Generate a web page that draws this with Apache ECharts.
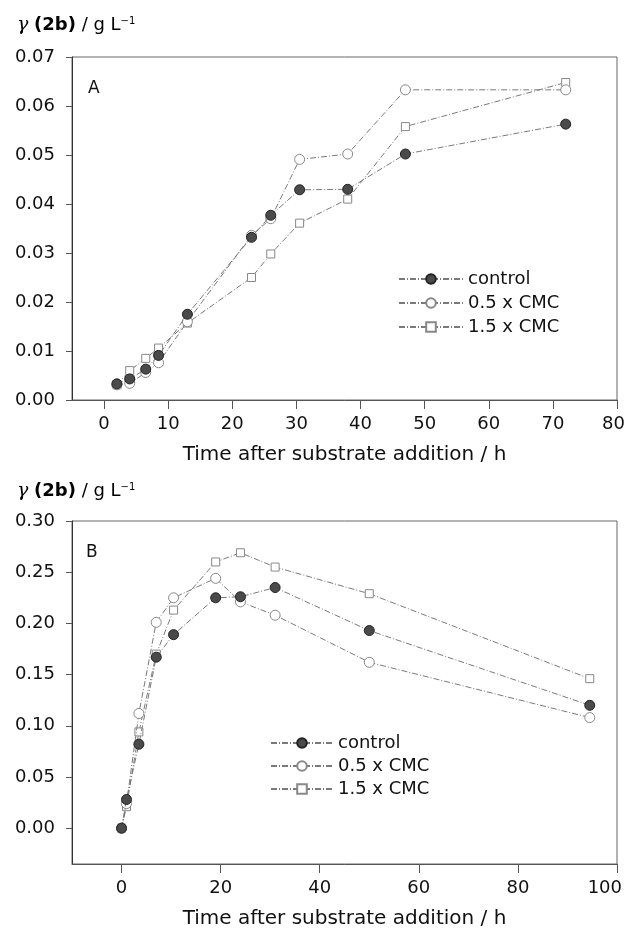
<!DOCTYPE html>
<html><head><meta charset="utf-8">
<script src="https://cdn.jsdelivr.net/npm/echarts@6/dist/echarts.min.js"></script>
<style>html,body{margin:0;padding:0;background:#fff}#c{width:627px;height:932px}</style>
</head><body><div id="c"></div>
<script>
var seriesNames = ['control', '0.5 x CMC', '1.5 x CMC'];
var timeA = [2, 4, 6.5, 8.5, 13, 23, 26, 30.5, 38, 47, 72];
var controlA = [0.0033, 0.0043, 0.0063, 0.0091, 0.0175, 0.0332, 0.0377, 0.0429, 0.0430, 0.0502, 0.0563];
var cmc05A = [0.0031, 0.0034, 0.0056, 0.0076, 0.0160, 0.0336, 0.0370, 0.0491, 0.0502, 0.0633, 0.0633];
var cmc15A = [0.0031, 0.0060, 0.0085, 0.0106, 0.0157, 0.0250, 0.0298, 0.0361, 0.0410, 0.0558, 0.0648];
var timeB = [0, 1, 3.5, 7, 10.5, 19, 24, 31, 50, 94.5];
var controlB = [0.000, 0.028, 0.082, 0.167, 0.189, 0.225, 0.226, 0.235, 0.193, 0.120];
var cmc05B = [0.000, 0.024, 0.112, 0.201, 0.225, 0.244, 0.221, 0.208, 0.162, 0.108];
var cmc15B = [0.000, 0.021, 0.094, 0.170, 0.213, 0.260, 0.269, 0.255, 0.229, 0.146];
var xTicksA = [0, 10, 20, 30, 40, 50, 60, 70, 80];
var yTicksA = [0, 0.01, 0.02, 0.03, 0.04, 0.05, 0.06, 0.07];
var xTicksB = [0, 20, 40, 60, 80, 100];
var yTicksB = [0, 0.05, 0.10, 0.15, 0.20, 0.25, 0.30];

function pairs(xs, ys) { return xs.map(function (x, i) { return [x, ys[i]]; }); }

var FONT = 'DejaVu Sans';
var lineStyle = { color: '#7a7a7a', width: 1, type: [6, 2, 1, 2] };
var symStyles = [
  { symbol: 'circle', symbolSize: 10, itemStyle: { color: '#4a4a4a', borderColor: '#222', borderWidth: 1 } },
  { symbol: 'circle', symbolSize: 10, itemStyle: { color: '#fff', borderColor: '#888', borderWidth: 1 } },
  { symbol: 'rect', symbolSize: 8, itemStyle: { color: '#fff', borderColor: '#888', borderWidth: 1 } }
];

function mkSeries(name, idx, data, axisIdx, z) {
  var s = symStyles[idx];
  return {
    type: 'line', name: name, xAxisIndex: axisIdx, yAxisIndex: axisIdx,
    data: data, symbol: s.symbol, symbolSize: s.symbolSize, itemStyle: s.itemStyle,
    lineStyle: lineStyle, z: z, animation: false, showAllSymbol: true
  };
}

function xAxis(gi, min, max, ticks, name, shift) {
  return {
    type: 'value', gridIndex: gi, min: min, max: max,
    name: name, nameLocation: 'middle', nameGap: 45,
    nameTextStyle: { fontFamily: FONT, fontSize: 20, color: '#111' },
    axisLine: { show: true, onZero: false, lineStyle: { color: '#555', width: 1 } },
    axisTick: { show: true, length: 9, customValues: ticks, lineStyle: { color: '#555' } },
    axisLabel: { customValues: ticks, margin: 15, fontFamily: FONT, fontSize: 18, color: '#111',
      alignMaxLabel: 'right',
      formatter: function (v) { return v === max ? '{r|' + v + '}' : String(v); },
      rich: { r: { fontFamily: FONT, fontSize: 18, color: '#111', padding: [0, -shift, 0, 0] } } },
    splitLine: { show: false }
  };
}
function yAxis(gi, min, max, ticks) {
  return {
    type: 'value', gridIndex: gi, min: min, max: max,
    axisLine: { show: true, onZero: false, lineStyle: { color: '#333', width: 1 } },
    axisTick: { show: true, length: 6, customValues: ticks, lineStyle: { color: '#555' } },
    axisLabel: { customValues: ticks, margin: 17, fontFamily: FONT, fontSize: 18, color: '#111',
      formatter: function (v) { return v.toFixed(2); } },
    splitLine: { show: false }
  };
}

var titleRich = {
  g: { fontFamily: 'DejaVu Serif', fontStyle: 'italic', fontSize: 19, color: '#111' },
  b: { fontFamily: FONT, fontWeight: 'bold', fontSize: 18, color: '#111' },
  t: { fontFamily: FONT, fontSize: 18, color: '#111' },
  s: { fontFamily: FONT, fontSize: 10, color: '#111', verticalAlign: 'top', padding: [0, 0, 9, 0] }
};
var titleText = '{g|γ}{t| }{b|(2b)}{t| / g L}{s|−1}';

var chart = echarts.init(document.getElementById('c'), null, { renderer: 'canvas' });
chart.setOption({
  backgroundColor: '#fff',
  animation: false,
  grid: [
    { left: 72, right: 10, top: 57, height: 343, show: true, borderColor: '#666', borderWidth: 1,
      outerBoundsMode: 'none', containLabel: false },
    { left: 72, right: 10, top: 521, height: 343, show: true, borderColor: '#666', borderWidth: 1,
      outerBoundsMode: 'none', containLabel: false }
  ],
  xAxis: [
    xAxis(0, -5, 80, xTicksA, 'Time after substrate addition / h', 8),
    xAxis(1, -10, 100, xTicksB, 'Time after substrate addition / h', 5)
  ],
  yAxis: [
    yAxis(0, 0, 0.07, yTicksA),
    yAxis(1, -0.035, 0.30, yTicksB)
  ],
  legend: [
    { data: seriesNames, orient: 'vertical', left: 398, top: 270, itemWidth: 64, itemHeight: 12,
      itemGap: 6, padding: 0, textStyle: { fontFamily: FONT, fontSize: 18, color: '#111' } },
    { data: seriesNames, orient: 'vertical', left: 270, top: 734, itemWidth: 62, itemHeight: 12,
      itemGap: 5, padding: 0, textStyle: { fontFamily: FONT, fontSize: 18, color: '#111' } }
  ],
  graphic: [
    { type: 'text', left: 17, top: 16, style: { text: titleText, rich: titleRich } },
    { type: 'text', left: 17, top: 482, style: { text: titleText, rich: titleRich } },
    { type: 'text', left: 88, top: 80, style: { text: 'A', fontFamily: FONT, fontSize: 17, fill: '#111' } },
    { type: 'text', left: 86, top: 544, style: { text: 'B', fontFamily: FONT, fontSize: 17, fill: '#111' } }
  ],
  series: [
    mkSeries(seriesNames[2], 2, pairs(timeA, cmc15A), 0, 2),
    mkSeries(seriesNames[1], 1, pairs(timeA, cmc05A), 0, 3),
    mkSeries(seriesNames[0], 0, pairs(timeA, controlA), 0, 4),
    mkSeries(seriesNames[2], 2, pairs(timeB, cmc15B), 1, 2),
    mkSeries(seriesNames[1], 1, pairs(timeB, cmc05B), 1, 3),
    mkSeries(seriesNames[0], 0, pairs(timeB, controlB), 1, 4)
  ]
});
</script></body></html>
